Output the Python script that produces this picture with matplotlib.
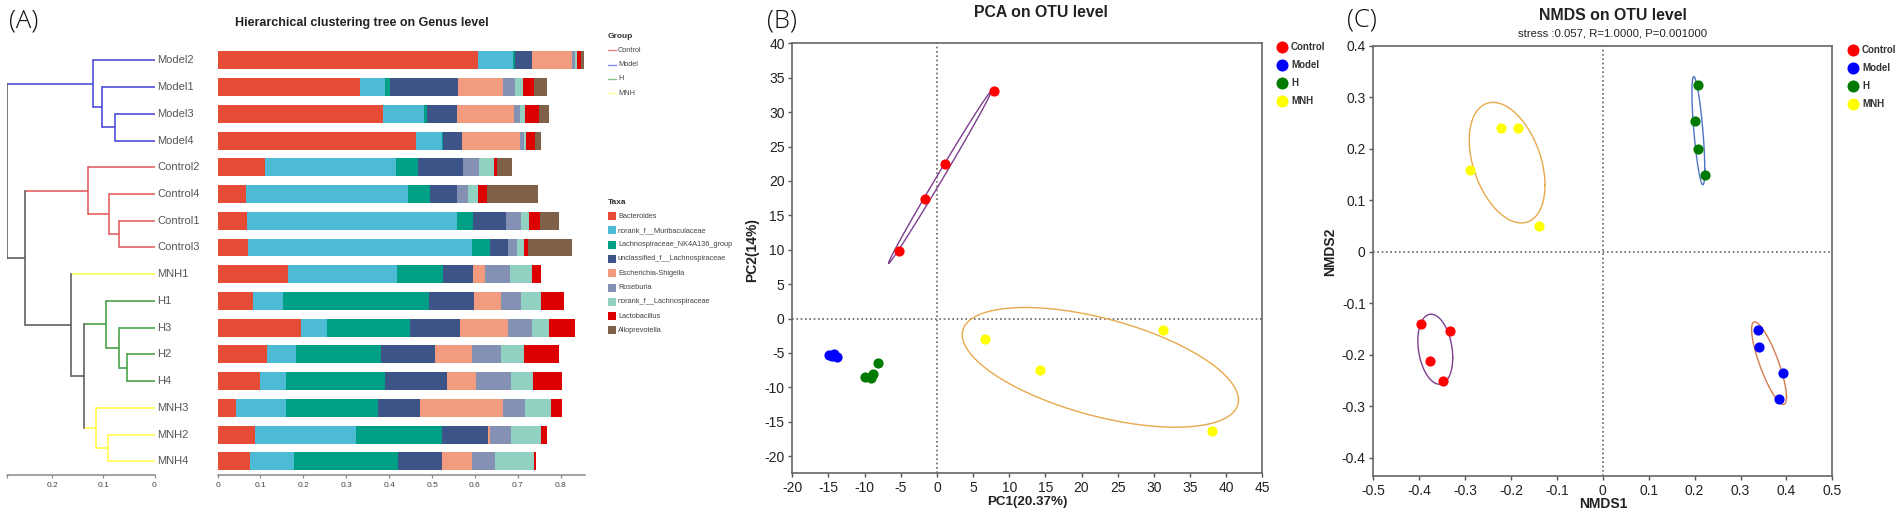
import numpy as np
import matplotlib
matplotlib.use('Agg')
import matplotlib.pyplot as plt
from matplotlib.patches import Rectangle

plt.rcParams['font.family'] = ['Liberation Sans', 'DejaVu Sans']

W, H = 1902, 515

### panel A data
samples = ['Model2', 'Model1', 'Model3', 'Model4', 'Control2', 'Control4', 'Control1', 'Control3',
           'MNH1', 'H1', 'H3', 'H2', 'H4', 'MNH3', 'MNH2', 'MNH4']
taxa = ['Bacteroides', 'norank_f__Muribaculaceae', 'Lachnospiraceae_NK4A136_group',
        'unclassified_f__Lachnospiraceae', 'Escherichia-Shigella', 'Roseburia',
        'norank_f__Lachnospiraceae', 'Lactobacillus', 'Alloprevotella']
taxa_colors = ['#E64B35', '#4DBBD5', '#00A087', '#3C5488', '#F39B7F', '#8491B4', '#91D1C2', '#DC0000', '#7E6148']

bacteroides = [.606, .331, .386, .462, .110, .067, .068, .072, .164, .082, .195, .116, .098, .043, .088, .075]
muribaculaceae = [.083, .059, .096, .062, .305, .378, .491, .522, .254, .071, .060, .067, .062, .117, .235, .103]
lachno_nk4a136 = [.004, .012, .005, .001, .053, .049, .037, .042, .107, .340, .194, .199, .231, .213, .200, .242]
unclassified_lachno = [.040, .158, .071, .045, .103, .063, .076, .040, .070, .105, .115, .124, .143, .099, .107, .104]
escherichia = [.094, .106, .133, .135, 0, 0, 0, 0, .028, .062, .114, .088, .068, .194, .005, .069]
roseburia = [.005, .028, .013, .010, .038, .026, .035, .021, .059, .047, .054, .066, .082, .051, .049, .053]
norank_lachno = [.006, .019, .013, .005, .036, .024, .020, .017, .050, .046, .041, .054, .051, .060, .070, .092]
lactobacillus = [.009, .025, .033, .021, .006, .022, .024, .009, .023, .055, .059, .083, .068, .026, .014, .005]
alloprevotella = [.007, .031, .023, .012, .036, .118, .044, .103, 0, 0, 0, 0, 0, 0, 0, 0]
abundance = [bacteroides, muribaculaceae, lachno_nk4a136, unclassified_lachno, escherichia,
             roseburia, norank_lachno, lactobacillus, alloprevotella]

# tree nodes are (height, colour, upper child, lower child), leaves are row numbers
BLUE, RED, GREEN, YEL, GREY = '#4040d8', '#e25555', '#3c9c3c', '#ffff40', '#555555'
model_tree = (0.121, BLUE, 0, (0.102, BLUE, 1, (0.0775, BLUE, 2, 3)))
control_tree = (0.130, RED, 4, (0.089, RED, 5, (0.069, RED, 6, 7)))
h_tree = (0.095, GREEN, 9, (0.069, GREEN, 10, (0.053, GREEN, 11, 12)))
mnh_tree = (0.1147, YEL, 13, (0.0918, YEL, 14, 15))
treated_tree = (0.163, GREY, 8, (0.1375, GREY, h_tree, mnh_tree))
full_tree = (0.2886, GREY, model_tree, (0.2546, GREY, control_tree, treated_tree))
leaf_colors = [BLUE] * 4 + [RED] * 4 + [YEL] + [GREEN] * 4 + [YEL] * 3

### panels B and C data
groups = ['Control', 'Model', 'H', 'MNH']
group_colors = ['#ff0000', '#0000ff', '#007a00', '#ffff00']
group_line_colors = ['#ee8888', '#8888ee', '#88c488', '#ffff99']

pca_x = [[7.9, 1.1, -1.7, -5.2], [-14.9, -14.3, -13.85, -14.5], [-8.2, -8.8, -9.15, -9.9], [6.6, 14.2, 31.3, 38.1]]
pca_y = [[33, 22.4, 17.4, 9.8], [-5.3, -5.1, -5.6, -5.5], [-6.5, -8, -8.7, -8.5], [-3, -7.5, -1.65, -16.4]]
# ellipses as centre x, centre y, half width, half height, phase in degrees, colour
pca_ellipses = [(0.4, 20.5, 7.1, 12.5, 4, '#7d3f8e'), (22.6, -7.1, 19.1, 8.7, 123, '#e8a94c')]

nmds_x = [[-.397, -.334, -.377, -.349], [.337, .341, .392, .383], [.208, .201, .208, .222], [-.222, -.185, -.289, -.139]]
nmds_y = [[-.140, -.153, -.211, -.251], [-.151, -.184, -.236, -.285], [.324, .254, .200, .150], [.241, .240, .158, .051]]
nmds_ellipses = [(-.365, -.189, .038, .068, 104, '#7d3f8e'), (.362, -.216, .038, .08, 145, '#d67a4e'),
                 (.208, .235, .014, .105, 135, '#4f74c4'), (-.2085, .173, .0825, .117, 112, '#e8a94c')]


def px_axes(left, top, right, bottom):
    return fig.add_axes([left / W, 1 - bottom / H, (right - left) / W, (bottom - top) / H])


def draw_node(ax, node):
    # returns height and row of the node so the parent can join it
    if not isinstance(node, tuple):
        return 0, node
    h, color, upper, lower = node
    h1, y1 = draw_node(ax, upper)
    h2, y2 = draw_node(ax, lower)
    for child, ch, cy in ((upper, h1, y1), (lower, h2, y2)):
        line_color = child[1] if isinstance(child, tuple) else leaf_colors[child]
        ax.plot([ch, h], [cy, cy], color=line_color, lw=1.1, solid_capstyle='butt')
    ax.plot([h, h], [y1, y2], color=color, lw=1.1, solid_capstyle='projecting')
    return h, (y1 + y2) / 2


def grey_axis(ax):
    for side in ['left', 'right', 'top']:
        ax.spines[side].set_visible(False)
    ax.spines['bottom'].set_color('#888888')
    ax.spines['bottom'].set_linewidth(1.1)
    ax.set_yticks([])
    ax.patch.set_alpha(0)
    ax.tick_params(axis='x', length=2.5, width=0.9, color='#888888', labelsize=6, labelcolor='#444444', pad=2.5)


def scatter_panel(ax, xs, ys, ellipses, xlim, ylim, xticks, yticks):
    ax.set_xlim(xlim)
    ax.set_ylim(ylim)
    ax.set_xticks(xticks)
    ax.set_yticks(yticks)
    ax.set_xticklabels(['{:g}'.format(v) for v in xticks])
    ax.set_yticklabels(['{:g}'.format(v) for v in yticks])
    ax.tick_params(length=3, width=1.0, color='#555555', labelsize=10, labelcolor='#222222', pad=2.5)
    for side in ax.spines:
        ax.spines[side].set_color('#666666')
        ax.spines[side].set_linewidth(1.2)
    ax.axhline(0, color='#666666', lw=1.2, ls=(0, (1, 1.6)), zorder=1)
    ax.axvline(0, color='#666666', lw=1.2, ls=(0, (1, 1.6)), zorder=1)
    t = np.linspace(0, 2 * np.pi, 300)
    for cx, cy, a, b, phase, color in ellipses:
        ax.plot(cx + a * np.cos(t), cy + b * np.cos(t - np.radians(phase)), color=color, lw=1.0, zorder=2)
    for gx, gy, color in zip(xs, ys, group_colors):
        ax.scatter(gx, gy, s=54, color=color, linewidths=0, zorder=3)


fig = plt.figure(figsize=(W / 100, H / 100), dpi=100)

### tree
ax_tree = px_axes(7.3, 47, 154.5, 475)
draw_node(ax_tree, full_tree)
ax_tree.set_xlim(0.2886, 0)
ax_tree.set_ylim(15.51, -0.5)
ax_tree.set_xticks([0.2886, 0.2, 0.1, 0])
ax_tree.set_xticklabels(['', '0.2', '0.1', '0'])
grey_axis(ax_tree)
for row, name in enumerate(samples):
    ax_tree.text(-0.005, row, name, fontsize=8, color='#555555', va='center', ha='left', clip_on=False)

### stacked bars
ax_bar = px_axes(217.6, 47, 584.8, 475)
rows = np.arange(len(samples))
left = np.zeros(len(samples))
for values, color, name in zip(abundance, taxa_colors, taxa):
    ax_bar.barh(rows, values, left=left, height=0.673, color=color, linewidth=0, label=name)
    left = left + np.array(values)
ax_bar.set_xlim(0, 0.856)
ax_bar.set_ylim(15.51, -0.5)
ax_bar.set_xticks([0, .1, .2, .3, .4, .5, .6, .7, .8])
ax_bar.set_xticklabels(['0', '0.1', '0.2', '0.3', '0.4', '0.5', '0.6', '0.7', '0.8'])
grey_axis(ax_bar)

### scatter panels
ax_pca = px_axes(792.3, 43.3, 1262.3, 473.3)
scatter_panel(ax_pca, pca_x, pca_y, pca_ellipses, (-20, 45), (-22.5, 40),
              list(range(-20, 46, 5)), list(range(-20, 41, 5)))
ax_nmds = px_axes(1373.3, 45.7, 1832.4, 476)
scatter_panel(ax_nmds, nmds_x, nmds_y, nmds_ellipses, (-0.5, 0.5), (-0.435, 0.4),
              [-.5, -.4, -.3, -.2, -.1, 0, .1, .2, .3, .4, .5], [-.4, -.3, -.2, -.1, 0, .1, .2, .3, .4])

### everything else is placed in picture pixels
ann = fig.add_axes([0, 0, 1, 1], zorder=10)
ann.set_xlim(0, W)
ann.set_ylim(H, 0)
ann.axis('off')
ann.patch.set_alpha(0)

for label, x, y in (('(A)', 9, 21.5), ('(B)', 766.5, 21.5), ('(C)', 1346.5, 20)):
    ann.text(x, y, label, fontsize=18.5, color='#111111', va='center', ha='left', family=['Open Sans', 'DejaVu Sans'], fontweight='light')

ann.text(362, 22.7, 'Hierarchical clustering tree on Genus level', fontsize=9, fontweight='bold', color='#222222', ha='center', va='center')
ann.text(1041, 12.5, 'PCA on OTU level', fontsize=11.4, fontweight='bold', color='#222222', ha='center', va='center')
ann.text(1613, 15, 'NMDS on OTU level', fontsize=11.4, fontweight='bold', color='#222222', ha='center', va='center')
ann.text(1612.5, 34, 'stress :0.057, R=1.0000, P=0.001000', fontsize=8.2, color='#222222', ha='center', va='center')

ann.text(1027, 501.7, 'PC1(20.37%)', fontsize=9.6, fontweight='bold', color='#222222', ha='center', va='center')
ann.text(752, 250, 'PC2(14%)', fontsize=10, fontweight='bold', color='#222222', ha='center', va='center', rotation=90)
ann.text(1603, 504, 'NMDS1', fontsize=10, fontweight='bold', color='#222222', ha='center', va='center')
ann.text(1330, 251.7, 'NMDS2', fontsize=10, fontweight='bold', color='#222222', ha='center', va='center', rotation=90)

# group legend of the tree
ann.text(608, 37, 'Group', fontsize=6, fontweight='bold', color='#333333', va='center')
for i, name in enumerate(groups):
    y = 50.3 + 14.25 * i
    ann.plot([607.7, 616], [y, y], color=group_line_colors[i], lw=1.0)
    ann.text(618, y, name, fontsize=5.3, color='#444444', va='center')

# taxa legend
ann.text(608, 203, 'Taxa', fontsize=6, fontweight='bold', color='#333333', va='center')
for i, name in enumerate(taxa):
    y = 216 + 14.3 * i
    ann.add_patch(Rectangle((607.7, y - 4), 8.3, 8, color=taxa_colors[i], linewidth=0))
    ann.text(618, y, name, fontsize=5.3, color='#444444', va='center')

# group legends of the scatter panels
for x0, y0 in ((1282, 47.3), (1853, 49.7)):
    for i, name in enumerate(groups):
        y = y0 + 18 * i
        ann.scatter([x0], [y], s=75, color=group_colors[i], linewidths=0)
        ann.text(x0 + 9, y, name, fontsize=7, fontweight='bold', color='#333333', va='center')

fig.savefig('out.png', dpi=100)
